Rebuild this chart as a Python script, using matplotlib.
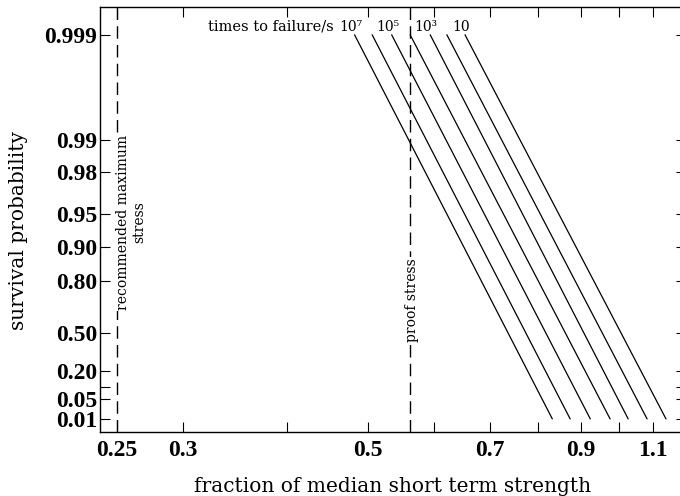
import numpy as np
import matplotlib
matplotlib.use('Agg')
import matplotlib.pyplot as plt
from matplotlib.ticker import NullLocator

plt.rcParams['font.family'] = 'DejaVu Serif'

# each line runs from survival 0.999 (top) to 0.01 (bottom)
line_survival = [0.999, 0.01]
stress_top = [0.482, 0.506, 0.534, 0.562, 0.594, 0.622, 0.654]
stress_bottom = [0.832, 0.874, 0.924, 0.976, 1.026, 1.081, 1.139]
time_labels = ['10⁷', '', '10⁵', '', '10³', '', '10']

recommended_stress = 0.25
proof_stress = 0.562

xticks = [0.25, 0.3, 0.4, 0.5, 0.6, 0.7, 0.8, 0.9, 1.0, 1.1]
xtick_labels = ['0.25', '0.3', '', '0.5', '', '0.7', '', '0.9', '', '1.1']
yticks = [0.01, 0.05, 0.1, 0.2, 0.5, 0.8, 0.9, 0.95, 0.98, 0.99, 0.999]
ytick_labels = ['0.01', '0.05', '', '0.20', '0.50', '0.80', '0.90', '0.95',
                '0.98', '0.99', '0.999']


def weibull(s):
    s = np.clip(s, 1e-12, 1 - 1e-12)
    return -np.log(-np.log(s))


def weibull_inv(y):
    return np.exp(-np.exp(-y))


fig = plt.figure(figsize=(6.8, 4.96), dpi=100)
ax = fig.add_axes([100 / 680, 64 / 496, 586 / 680, 425 / 496])
ax.set_xscale('log')
ax.set_yscale('function', functions=(weibull, weibull_inv))
ax.set_xlim(0.2385, 1.204)
ax.set_ylim(0.00211, 0.999459)

for top, bottom, lab in zip(stress_top, stress_bottom, time_labels):
    ax.plot([top, bottom], line_survival, color='black', lw=0.9)
    if lab:
        ax.annotate(lab, (top, line_survival[0]), xytext=(-4, 8),
                    textcoords='offset pixels', ha='center', va='center',
                    fontsize=10)
ax.annotate('times to failure/s', (stress_top[0], line_survival[0]),
            xytext=(-21, 8), textcoords='offset pixels', ha='right',
            va='center', fontsize=10.5)

dash = (0, (9, 4.5))
ax.axvline(recommended_stress, color='black', lw=1.0, ls=dash)
ax.axvline(proof_stress, color='black', lw=1.0, ls=dash)
box = dict(facecolor='white', edgecolor='none', pad=1)
ax.text(0.26, 0.9408, 'recommended maximum\nstress', rotation=90,
        ha='center', va='center', multialignment='center', fontsize=10,
        bbox=box)
ax.text(0.565, 0.713, 'proof stress', rotation=90, ha='center',
        va='center', fontsize=10, bbox=box)

tick_font = dict(fontfamily='Liberation Serif', fontweight='bold', fontsize=17)
ax.set_xticks(xticks, xtick_labels, **tick_font)
ax.set_yticks(yticks, ytick_labels, **tick_font)
ax.xaxis.set_minor_locator(NullLocator())
ax.yaxis.set_minor_locator(NullLocator())
ax.tick_params(direction='in', length=7, width=0.8, top=True, right=True)
ax.tick_params(axis='x', pad=5.5)
ax.tick_params(axis='y', pad=2)
ax.spines['right'].set_visible(False)
for sp in ['left', 'top', 'bottom']:
    ax.spines[sp].set_linewidth(1.0)

ax.set_xlabel('fraction of median short term strength', fontsize=14.5)
ax.set_ylabel('survival probability', fontsize=14.5)
ax.xaxis.set_label_coords(0.5, -0.106)
ax.yaxis.set_label_coords(-0.1226, 0.475)

fig.savefig('out.png', dpi=100)
